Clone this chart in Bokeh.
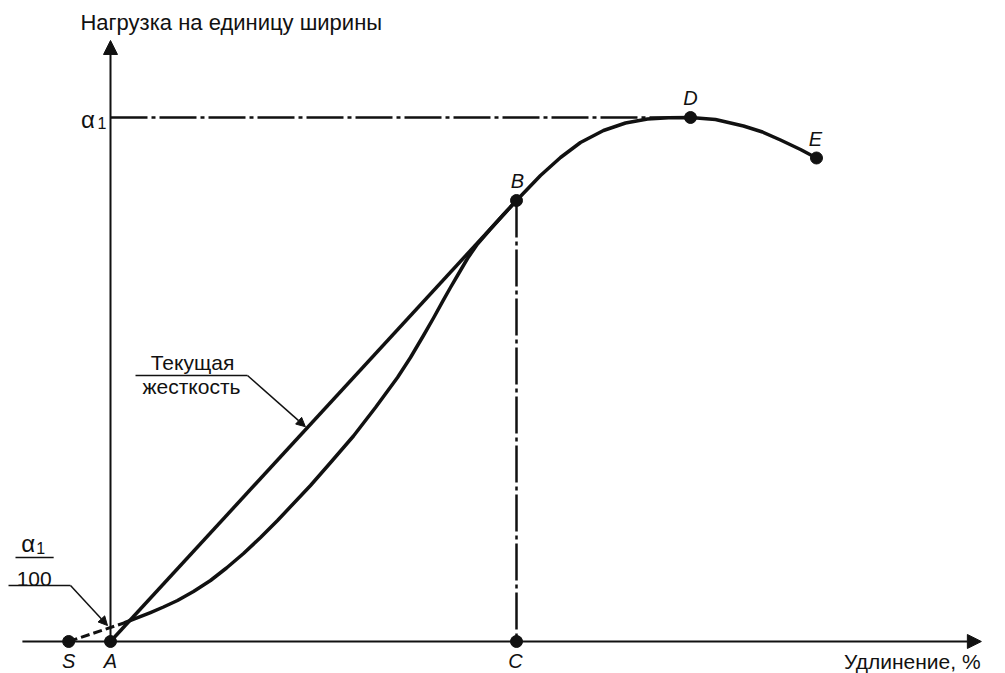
from bokeh.plotting import figure
from bokeh.models import Range1d, Arrow, NormalHead, Label, LabelSet, ColumnDataSource
from bokeh.core.properties import value
from bokeh.embed import file_html
from bokeh.resources import INLINE

# ---------------- data ----------------
alpha1 = 100.0                      # load level of point D (α1)
point_names = ["S", "A", "B", "C", "D", "E"]
point_x = [-1.03, 0.0, 10.0, 10.0, 14.286, 17.389]
point_y = [0.0, 0.0, 84.16, 0.0, 100.0, 92.271]

curve_x = [0.369, 0.985, 1.305, 1.650, 2.044, 2.463, 2.857, 3.276, 3.695,
           4.113, 4.926, 5.443, 5.985, 6.527, 7.069, 7.389, 7.709, 7.956,
           8.202, 8.374, 8.547, 8.793, 9.039, 9.360, 9.680, 10.000, 10.591,
           11.084, 11.576, 12.143, 12.685, 13.227, 13.744, 14.286, 14.901,
           15.591, 16.059, 16.502, 16.995, 17.389]
curve_y = [3.626, 5.534, 6.584, 7.824, 9.542, 11.641, 14.027, 16.794, 19.847,
           23.092, 29.771, 34.351, 39.218, 44.656, 50.382, 54.198, 58.397,
           61.737, 65.191, 67.557, 69.847, 73.092, 75.859, 78.721, 81.489,
           84.160, 88.931, 92.366, 95.229, 97.519, 98.950, 99.714, 99.962,
           100.0, 99.618, 98.378, 97.233, 95.706, 93.893, 92.271]

y_axis_title = "Нагрузка на единицу ширины"
x_axis_title = "Удлинение, %"
secant_text = ["Текущая", "жесткость"]
fraction_den = "100"

FONT = "Liberation Sans"
BLACK = "#111111"

# ---------------- figure ----------------
p = figure(width=1005, height=673,
           x_range=Range1d(-2.7094, 22.0443), y_range=Range1d(-6.1069, 122.328),
           output_backend="svg", toolbar_location=None, min_border=0,
           x_axis_location=None, y_axis_location=None)
p.grid.visible = False
p.outline_line_color = None
p.background_fill_color = "white"
p.border_fill_color = "white"

S = (point_x[0], point_y[0])
A = (point_x[1], point_y[1])
B = (point_x[2], point_y[2])
C = (point_x[3], point_y[3])
D = (point_x[4], point_y[4])

# axes with arrow heads
p.add_layout(Arrow(end=NormalHead(size=14, fill_color=BLACK, line_color=BLACK),
                   x_start=-2.17, y_start=0, x_end=21.45, y_end=0,
                   line_width=2, line_color=BLACK))
p.add_layout(Arrow(end=NormalHead(size=14, fill_color=BLACK, line_color=BLACK),
                   x_start=0, y_start=0, x_end=0, y_end=114.7,
                   line_width=2, line_color=BLACK))

# dash-dot reference lines
p.line([A[0], D[0]], [alpha1, alpha1], line_dash="37 4 4 4",
       line_width=2.5, line_color=BLACK)
p.line([B[0], C[0]], [B[1], C[1]], line_dash="37 4 4 4",
       line_width=2.5, line_color=BLACK)

# dashed extension S -> start of the curve
p.line([S[0], curve_x[0]], [S[1], curve_y[0]], line_dash="9 4",
       line_width=3, line_color=BLACK)

# secant stiffness line A -> B
p.line([A[0], B[0]], [A[1], B[1]], line_width=3.5, line_color=BLACK)

# load-elongation curve
p.line(curve_x, curve_y, line_width=3.5, line_color=BLACK,
       line_join="round", line_cap="round")

# points
p.scatter(point_x, point_y, size=12, color=BLACK)

# point labels
lab_dx = [0, 0, 1, -1, 0, -1]
lab_dy = [-20, -20, 20, -20, 19, 19]
src = ColumnDataSource(dict(x=point_x, y=point_y, t=point_names,
                            dx=lab_dx, dy=lab_dy))
p.add_layout(LabelSet(x="x", y="y", text="t", source=src,
                      x_offset="dx", y_offset="dy",
                      text_align="center", text_baseline="middle",
                      text_font=value(FONT), text_font_style="italic",
                      text_font_size="20px", text_color=BLACK))

# axis titles
p.add_layout(Label(x=-0.74, y=118.13, text=y_axis_title, text_align="left",
                   text_baseline="middle", text_font=FONT,
                   text_font_size="22px", text_color=BLACK))
p.add_layout(Label(x=21.43, y=-3.85, text=x_axis_title, text_align="right",
                   text_baseline="middle", text_font=FONT,
                   text_font_size="21px", text_color=BLACK))

# α1 at the load axis
p.add_layout(Label(x=0, y=alpha1, x_offset=-22.5, y_offset=-2, text="α",
                   text_align="center", text_baseline="middle", text_font=FONT,
                   text_font_size="24px", text_color=BLACK))
p.add_layout(Label(x=0, y=alpha1, x_offset=-8.5, y_offset=-6, text="1",
                   text_align="center", text_baseline="middle", text_font=FONT,
                   text_font_size="16px", text_color=BLACK))

# α1/100 fraction with leader
p.add_layout(Label(x=-2.03, y=18.70, text="α", text_align="center",
                   text_baseline="middle", text_font=FONT,
                   text_font_size="24px", text_color=BLACK))
p.add_layout(Label(x=-1.72, y=17.75, text="1", text_align="center",
                   text_baseline="middle", text_font=FONT,
                   text_font_size="16px", text_color=BLACK))
p.line([-2.34, -1.40], [16.03, 16.03], line_width=1.5, line_color=BLACK)
p.add_layout(Label(x=-1.88, y=12.02, text=fraction_den, text_align="center",
                   text_baseline="middle", text_font=FONT,
                   text_font_size="21px", text_color=BLACK))
p.line([-2.512, -0.985], [10.69, 10.69], line_width=1.5, line_color=BLACK)
p.add_layout(Arrow(end=NormalHead(size=9, fill_color=BLACK, line_color=BLACK),
                   x_start=-0.985, y_start=10.69, x_end=-0.074, y_end=3.05,
                   line_width=1.5, line_color=BLACK))

# "Текущая жесткость" with leader to the secant
tip_x = 4.80
tip_y = B[1] * tip_x / B[0]
p.add_layout(Label(x=2.02, y=53.24, text=secant_text[0], text_align="center",
                   text_baseline="middle", text_font=FONT,
                   text_font_size="21px", text_color=BLACK))
p.add_layout(Label(x=1.995, y=48.66, text=secant_text[1], text_align="center",
                   text_baseline="middle", text_font=FONT,
                   text_font_size="21px", text_color=BLACK))
p.line([0.616, 3.374], [50.76, 50.76], line_width=1.5, line_color=BLACK)
p.add_layout(Arrow(end=NormalHead(size=9, fill_color=BLACK, line_color=BLACK),
                   x_start=3.374, y_start=50.76, x_end=tip_x, y_end=tip_y + 0.6,
                   line_width=1.5, line_color=BLACK))

open("out.html", "w").write(file_html(p, INLINE))
